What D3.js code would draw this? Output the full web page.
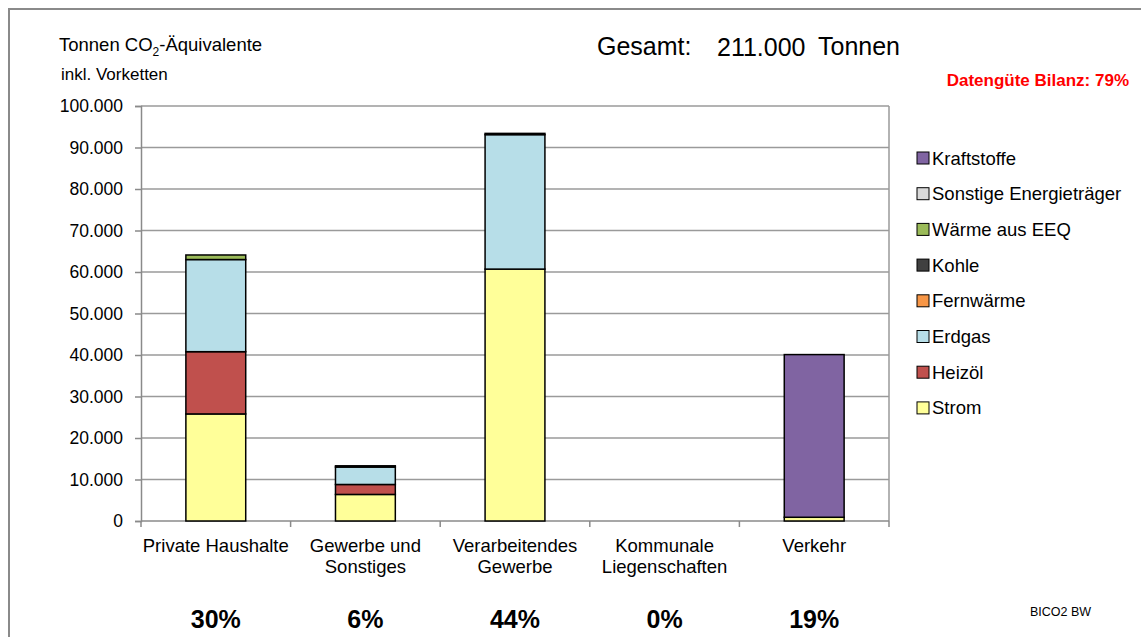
<!DOCTYPE html>
<html>
<head>
<meta charset="utf-8">
<script src="https://cdn.jsdelivr.net/npm/d3@7"></script>
<style>
  body { margin: 0; background: #fff; }
  svg { font-family: "Liberation Sans", Arial, sans-serif; display: block; }
</style>
</head>
<body>
<svg id="chart" width="1141" height="637"></svg>
<script>
// categories (two-line labels)
var categories = ['Private Haushalte', 'Gewerbe und Sonstiges', 'Verarbeitendes Gewerbe', 'Kommunale Liegenschaften', 'Verkehr'];
var categoryLines = [['Private Haushalte'], ['Gewerbe und', 'Sonstiges'], ['Verarbeitendes', 'Gewerbe'], ['Kommunale', 'Liegenschaften'], ['Verkehr']];
var shares = ['30%', '6%', '44%', '0%', '19%'];

// series in stacking order, bottom to top
var seriesNames = ['Strom', 'Heizöl', 'Erdgas', 'Fernwärme', 'Kohle', 'Wärme aus EEQ', 'Sonstige Energieträger', 'Kraftstoffe'];
var seriesColors = ['#FFFF99', '#C0504D', '#B7DEE8', '#F79646', '#404040', '#9BBB59', '#D9D9D9', '#8064A2'];

var strom       = [25800, 6400, 60700, 0, 900];
var heizoel     = [15000, 2400, 0, 0, 0];
var erdgas      = [22200, 4200, 32400, 0, 0];
var fernwaerme  = [0, 0, 0, 0, 0];
var kohle       = [0, 300, 300, 0, 0];
var waermeEEQ   = [1100, 0, 0, 0, 0];
var sonstige    = [0, 0, 0, 0, 0];
var kraftstoffe = [0, 0, 0, 0, 39200];

var yTicks = [0, 10000, 20000, 30000, 40000, 50000, 60000, 70000, 80000, 90000, 100000];

var seriesValues = [strom, heizoel, erdgas, fernwaerme, kohle, waermeEEQ, sonstige, kraftstoffe];

var rows = categories.map(function (c, i) {
    var r = {cat: c};
    seriesNames.forEach(function (s, j) { r[s] = seriesValues[j][i]; });
    return r;
});

var svg = d3.select('#chart');
var pLeft = 141, pRight = 889, pTop = 106, pBottom = 521;

var x = d3.scaleBand().domain(categories).range([pLeft, pRight]).paddingInner(0.6).paddingOuter(0.3);
var y = d3.scaleLinear().domain([0, 100000]).range([pBottom, pTop]);
var fmt = function (v) { return d3.format(',')(v).replace(/,/g, '.'); };

// outer frame
svg.append('rect')
    .attr('x', 9).attr('y', 9).attr('width', 1150).attr('height', 650)
    .attr('fill', 'none').attr('stroke', '#8a8a8a').attr('stroke-width', 2);

// grid lines
svg.append('g').selectAll('line').data(yTicks.slice(1)).enter().append('line')
    .attr('x1', pLeft).attr('x2', pRight)
    .attr('y1', function (d) { return y(d); }).attr('y2', function (d) { return y(d); })
    .attr('stroke', '#9a9a9a').attr('stroke-width', 1.5);
// right border of plot area
svg.append('line').attr('x1', pRight).attr('x2', pRight).attr('y1', pTop).attr('y2', pBottom)
    .attr('stroke', '#9a9a9a').attr('stroke-width', 1.5);

// y axis
var yAxis = d3.axisLeft(y).tickValues(yTicks).tickFormat(fmt).tickSize(6).tickPadding(12);
var gy = svg.append('g').attr('transform', 'translate(' + pLeft + ',0)').call(yAxis);
gy.select('.domain').attr('stroke', '#8a8a8a').attr('stroke-width', 1.5);
gy.selectAll('.tick line').attr('stroke', '#8a8a8a').attr('stroke-width', 1.5);
gy.selectAll('.tick text').attr('font-size', 17.5).attr('fill', '#000')
    .attr('font-family', '"Liberation Sans", Arial, sans-serif');

// x axis line and category ticks
svg.append('line').attr('x1', pLeft).attr('x2', pRight).attr('y1', pBottom).attr('y2', pBottom)
    .attr('stroke', '#8a8a8a').attr('stroke-width', 1.5);
svg.append('g').selectAll('line').data(d3.range(categories.length + 1)).enter().append('line')
    .attr('x1', function (i) { return pLeft + i * x.step(); })
    .attr('x2', function (i) { return pLeft + i * x.step(); })
    .attr('y1', pBottom).attr('y2', pBottom + 6)
    .attr('stroke', '#8a8a8a').attr('stroke-width', 1.5);

// stacked bars
var stack = d3.stack().keys(seriesNames)(rows);
var colorOf = d3.scaleOrdinal().domain(seriesNames).range(seriesColors);
svg.append('g').selectAll('g').data(stack).enter().append('g')
    .attr('fill', function (d) { return colorOf(d.key); })
    .selectAll('rect').data(function (d) { return d.filter(function (p) { return p[1] - p[0] > 0; }); })
    .enter().append('rect')
    .attr('x', function (d) { return x(d.data.cat); })
    .attr('width', x.bandwidth())
    .attr('y', function (d) { return y(d[1]); })
    .attr('height', function (d) { return y(d[0]) - y(d[1]); })
    .attr('stroke', '#000').attr('stroke-width', 1.5);

// category labels and shares
var catG = svg.append('g').attr('font-size', 18.5).attr('text-anchor', 'middle');
categories.forEach(function (c, i) {
    var cx = x(c) + x.bandwidth() / 2;
    categoryLines[i].forEach(function (line, k) {
        catG.append('text').attr('x', cx).attr('y', 552 + k * 21).text(line);
    });
    svg.append('text').attr('x', cx).attr('y', 628).attr('text-anchor', 'middle')
        .attr('font-size', 25).attr('font-weight', 'bold').text(shares[i]);
});

// axis title
var t = svg.append('text').attr('x', 59).attr('y', 51).attr('font-size', 18.5);
t.append('tspan').text('Tonnen CO');
t.append('tspan').attr('font-size', 12).attr('dy', 5).text('2');
t.append('tspan').attr('dy', -5).text('-Äquivalente');
svg.append('text').attr('x', 61).attr('y', 80).attr('font-size', 17).text('inkl. Vorketten');

// headline
svg.append('text').attr('x', 597).attr('y', 55).attr('font-size', 25).text('Gesamt:');
svg.append('text').attr('x', 717).attr('y', 56).attr('font-size', 25).text('211.000');
svg.append('text').attr('x', 818).attr('y', 55).attr('font-size', 25).text('Tonnen');
svg.append('text').attr('x', 1129).attr('y', 86).attr('text-anchor', 'end')
    .attr('font-size', 17).attr('font-weight', 'bold').attr('fill', '#FF0000')
    .text('Datengüte Bilanz: 79%');
svg.append('text').attr('x', 1030).attr('y', 616).attr('font-size', 12.5).text('BICO2 BW');

// legend (top to bottom is reverse stacking order)
var legendItems = seriesNames.slice().reverse();
var lg = svg.append('g').selectAll('g').data(legendItems).enter().append('g')
    .attr('transform', function (d, i) { return 'translate(917,' + (158 + i * 35.7) + ')'; });
lg.append('rect').attr('x', 0).attr('y', -6).attr('width', 12).attr('height', 12)
    .attr('fill', function (d) { return colorOf(d); })
    .attr('stroke', '#000').attr('stroke-width', 1);
lg.append('text').attr('x', 15).attr('y', 6.5).attr('font-size', 18.5).text(function (d) { return d; });
</script>
</body>
</html>
